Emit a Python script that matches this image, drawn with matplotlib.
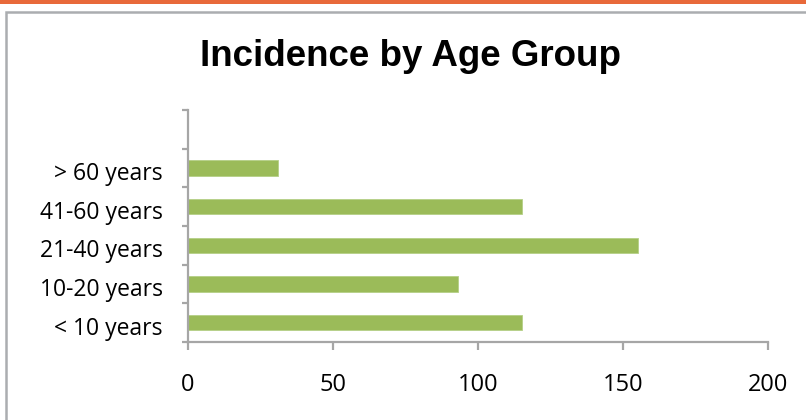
import matplotlib.pyplot as plt
import matplotlib.transforms as mtransforms
from matplotlib.patches import Rectangle

# data (bottom to top)
age_groups = ['< 10 years', '10-20 years', '21-40 years', '41-60 years', '> 60 years']
incidence = [115, 93, 155, 115, 31]
x_ticks = [0, 50, 100, 150, 200]

W, H = 806, 420
fig = plt.figure(figsize=(W / 100, H / 100), dpi=100)

# orange strip at the top and grey chart frame
fig.patches.append(Rectangle((0, 1 - 4 / H), 1, 4 / H, transform=fig.transFigure,
                             facecolor='#E8693A', edgecolor='none'))
fig.patches.append(Rectangle((6 / W, -0.1), 1.2, 1 - 11.5 / H + 0.1, transform=fig.transFigure,
                             facecolor='none', edgecolor='#ABADB0', linewidth=1.8))

ax = fig.add_axes([188 / W, 78 / H, 580 / W, 232 / H])
ypos = range(len(age_groups))
ax.barh(ypos, incidence, height=0.4, color='#9BBB59', edgecolor='#B5CF86', linewidth=0.6)

axis_col = '#A6A6A6'
ax.set_xlim(0, 200)
ax.set_ylim(-0.5, len(age_groups) + 0.5)
ax.set_xticks(x_ticks)
ax.set_xticklabels([str(v) for v in x_ticks])
ax.set_yticks([i - 0.5 for i in range(len(age_groups) + 2)])
ax.set_yticklabels([])
ax.set_yticks(list(ypos), minor=True)
ax.set_yticklabels(age_groups, minor=True)

for s in ['top', 'right']:
    ax.spines[s].set_visible(False)
for s in ['left', 'bottom']:
    ax.spines[s].set_color(axis_col)
    ax.spines[s].set_linewidth(1.6)

ax.tick_params(axis='x', direction='out', length=6, width=1.6, color=axis_col,
               labelsize=17, pad=16)
ax.tick_params(axis='y', which='major', direction='out', length=4.5, width=1.6, color=axis_col)
ax.tick_params(axis='y', which='minor', length=0, labelsize=16.5, pad=18)
shift = mtransforms.ScaledTranslation(0, -3 / 100, fig.dpi_scale_trans)
for lab in ax.get_yticklabels(minor=True):
    lab.set_transform(lab.get_transform() + shift)
for lab in ax.get_xticklabels() + ax.get_yticklabels(minor=True):
    lab.set_fontfamily('Open Sans')
    lab.set_color('black')

fig.text(411 / W, 1 - 66 / H, 'Incidence by Age Group', ha='center', va='baseline',
         fontsize=26.5, fontweight='bold', family='Liberation Sans')

fig.savefig('out.png', dpi=100)
